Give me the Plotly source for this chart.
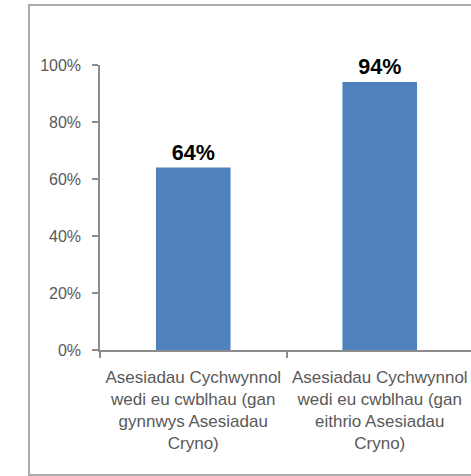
import plotly.graph_objects as go

categories = [
    "Asesiadau Cychwynnol<br>wedi eu cwblhau (gan<br>gynnwys Asesiadau<br>Cryno)",
    "Asesiadau Cychwynnol<br>wedi eu cwblhau (gan<br>eithrio Asesiadau<br>Cryno)",
]
values = [0.64, 0.94]
value_labels = ["64%", "94%"]
y_ticks = [0, 0.2, 0.4, 0.6, 0.8, 1.0]
y_tick_labels = ["0%", "20%", "40%", "60%", "80%", "100%"]

W, H = 471, 476
L, T, B = 100, 65, 126
plot_w = W - L
plot_h = H - T - B
unit = 186.5

fig = go.Figure(go.Bar(
    x=categories, y=values,
    marker=dict(color="#4F81BD", line=dict(width=0)),
    width=0.4,
    text=value_labels, textposition="outside",
    textfont=dict(family="Liberation Sans, Arial", size=21.5, color="#000000", weight="bold"),
    cliponaxis=False,
))

def px_x(p):
    return (p - L) / plot_w

def px_y(p):
    return (H - B - p) / plot_h

fig.add_shape(type="rect", xref="paper", yref="paper",
              x0=px_x(29), x1=px_x(480), y0=px_y(475), y1=px_y(5),
              line=dict(color="#ababab", width=2), fillcolor="rgba(0,0,0,0)", layer="below")

fig.update_layout(
    width=W, height=H,
    margin=dict(l=L, r=0, t=T, b=B, pad=0, autoexpand=False),
    plot_bgcolor="white", paper_bgcolor="white",
    showlegend=False,
    xaxis=dict(
        range=[-0.5, -0.5 + plot_w / unit],
        showline=True, linecolor="#8c8c8c", linewidth=1.5,
        ticks="outside", tickson="boundaries", ticklen=6, tickcolor="#8c8c8c", tickwidth=1.5,
        tickfont=dict(family="Liberation Sans, Arial", size=17, color="#595959"),
        tickangle=0, automargin=False,
        ticklabelstandoff=11,
        showgrid=False, zeroline=False,
    ),
    yaxis=dict(
        range=[0, 1],
        tickvals=y_ticks, ticktext=y_tick_labels,
        showline=True, linecolor="#8c8c8c", linewidth=1.5,
        ticks="outside", ticklen=6, tickcolor="#8c8c8c", tickwidth=1.5,
        tickfont=dict(family="Liberation Sans, Arial", size=16, color="#595959"),
        ticklabelstandoff=8, automargin=False,
        showgrid=False, zeroline=False,
    ),
)

fig.write_html("out.html", config={"displayModeBar": False},
               post_script="document.body.style.margin='0';document.body.style.overflow='hidden';")
